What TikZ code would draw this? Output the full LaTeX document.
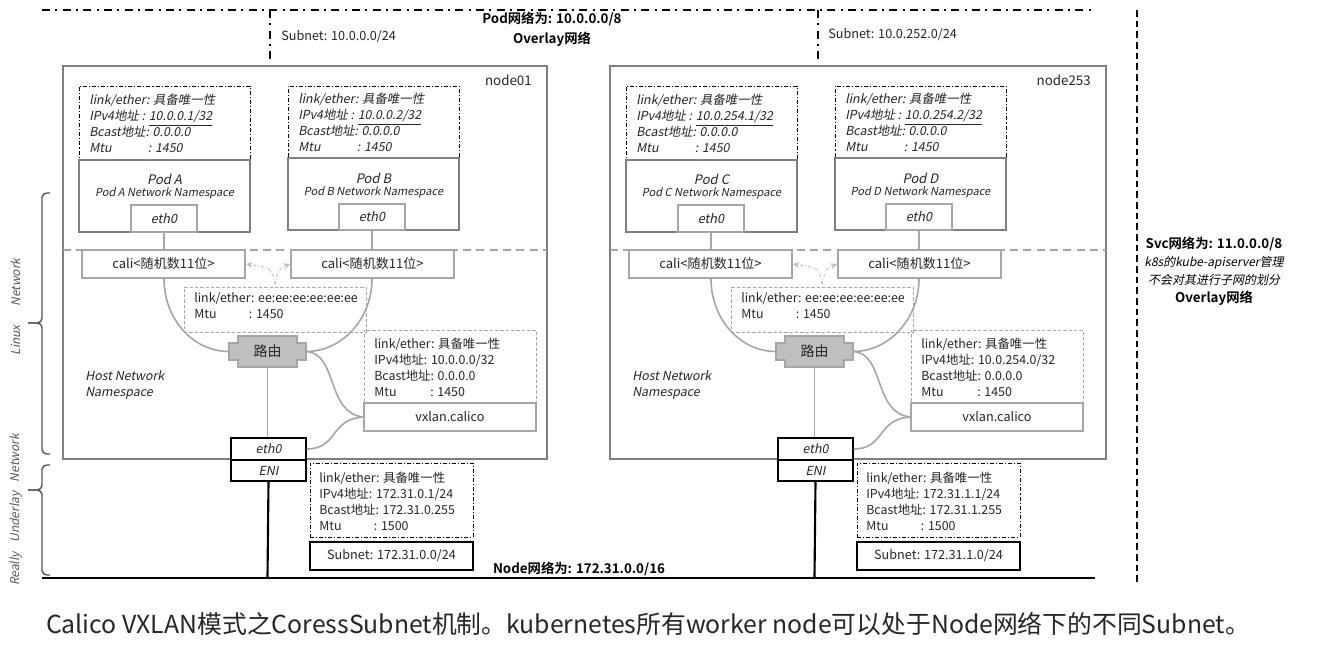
\documentclass[tikz,border=0pt]{standalone}
\usepackage{fontspec}
\setmainfont{Noto Sans CJK SC}[BoldFont={Noto Sans CJK SC Bold}]
\newfontfamily\itf{Noto Sans CJK SC}[FakeSlant=0.2]
\usetikzlibrary{fit,arrows.meta}
\definecolor{gA}{HTML}{7F7F7F}
\definecolor{gB}{HTML}{A6A6A6}
\definecolor{gC}{HTML}{BFBFBF}
\definecolor{gD}{HTML}{595959}
\definecolor{tx}{HTML}{262626}
\newcommand\fsz[2]{\fontsize{#1}{#2}\selectfont}
\tikzset{
  hostbox/.style={draw=gA, line width=1.5pt, inner sep=0pt},
  podbox/.style={draw=gA, line width=1.5pt, inner sep=0pt},
  ethbox/.style={draw=gB, line width=1.2pt, inner sep=0pt},
  calibox/.style={draw=gB, line width=1.2pt, inner sep=0pt},
  ddbox/.style={draw=black, line width=0.6pt, dash pattern=on 3pt off 1.5pt on 0.8pt off 1.5pt, inner sep=0pt},
  gdbox/.style={draw=gB, line width=0.6pt, dash pattern=on 2.5pt off 1.5pt, inner sep=0pt},
  bbox/.style={draw=black, line width=0.8pt, inner sep=0pt},
  infotxt/.style={anchor=north west, align=left, inner sep=0pt, text=tx, font=\fsz{9.3}{12}},
  iinfotxt/.style={anchor=north west, align=left, inner sep=0pt, text=tx, font=\fsz{9.3}{12}\itf},
  boxtxt/.style={inner sep=0pt, text=tx, font=\fsz{9.5}{11}},
  iboxtxt/.style={inner sep=0pt, text=tx, font=\fsz{9.5}{11}\itf},
  garc/.style={draw=gB, line width=1.2pt},
  gline/.style={draw=gB, line width=1.2pt},
  garrow/.style={draw=gC, line width=0.8pt, dash pattern=on 2pt off 1.5pt on 0.6pt off 1.5pt, -{Stealth[length=5pt,width=4.5pt]}},
  boldtxt/.style={font=\fsz{10}{15}\bfseries, align=center, inner sep=0pt},
  plaintxt/.style={font=\fsz{9.5}{11}, inner sep=0pt},
  sidetxt/.style={rotate=90, font=\fsz{9}{11}\itf, text=gD, inner sep=0pt},
  dashdotline/.style={draw=black, line width=1.5pt, dash pattern=on 6pt off 4pt on 1.5pt off 4pt},
  bracestyle/.style={draw=gD, line width=1.1pt, rounded corners=3.5pt},
}
% #1 node name, #2/#3 pod letters, #4/#5 pod ips, #6 vxlan ip, #7 eni ip, #8 bcast, #9 subnet
\newcommand\hostnode[9]{%
  \node[hostbox, fit={(63,66)(63+\nodew,459)}] (box) {};
  \node[plaintxt, anchor=east, font=\fsz{10}{12}, text=tx] (nm) at (48+\nodew,80) {#1};
  % pod left
  \node[ddbox, fit={(79,86)(250,160)}] (infoL) {};
  \node[iinfotxt] (infoLt) at (89,94) {link/ether: 具备唯一性\\IPv4地址 : \underline{#4}\\Bcast地址: 0.0.0.0\\\makebox[44pt][l]{Mtu}: 1450};
  \node[podbox, fit={(79,160)(250,232)}] (podL) {};
  \node[plaintxt, font=\fsz{9.8}{11}\itf, text=tx] (podLt) at (164.5,179) {Pod #2};
  \node[plaintxt, font=\fsz{8.3}{10}\itf, text=tx] (podLn) at (164.5,193) {Pod #2 Network Namespace};
  \node[ethbox, fit={(131,205)(197,232)}] (ethL) {};
  \node[iboxtxt] (ethLt) at (ethL.center) {eth0};
  % pod right
  \node[ddbox, fit={(288,86)(459,158)}] (infoR) {};
  \node[iinfotxt] (infoRt) at (298,93) {link/ether: 具备唯一性\\IPv4地址 : \underline{#5}\\Bcast地址: 0.0.0.0\\\makebox[44pt][l]{Mtu}: 1450};
  \node[podbox, fit={(288,158)(459,230)}] (podR) {};
  \node[plaintxt, font=\fsz{9.8}{11}\itf, text=tx] (podRt) at (373.5,178) {Pod #3};
  \node[plaintxt, font=\fsz{8.3}{10}\itf, text=tx] (podRn) at (373.5,192) {Pod #3 Network Namespace};
  \node[ethbox, fit={(339,204)(405,230)}] (ethR) {};
  \node[iboxtxt] (ethRt) at (ethR.center) {eth0};
  % namespace separator
  \coordinate (sepL) at (63,250);
  \coordinate (sepR) at (63+\nodew,250);
  \draw[draw=gB, line width=1.2pt, dash pattern=on 6pt off 4pt] (sepL) -- (sepR);
  % cali
  \node[calibox, fill=white, fit={(82,250)(245,278)}] (caliL) {};
  \node[boxtxt, font=\fsz{9.8}{11}] (caliLt) at (caliL.center) {cali<随机数11位>};
  \node[calibox, fill=white, fit={(291,250)(454,278)}] (caliR) {};
  \node[boxtxt, font=\fsz{9.8}{11}] (caliRt) at (caliR.center) {cali<随机数11位>};
  \draw[gline] (ethL.south) -- (ethL.south |- caliL.north);
  \draw[gline] (ethR.south) -- (ethR.south |- caliR.north);
  % mid info
  \node[gdbox, fit={(184,287)(366,332)}] (minfo) {};
  \node[infotxt] (minfot) at (194,292) {link/ether: ee:ee:ee:ee:ee:ee\\\makebox[41pt][l]{Mtu}: 1450};
  % dashed arrows
  \coordinate (vt) at (275,284);
  \draw[garrow] (vt) .. controls (272,268) .. (caliL.east);
  \draw[garrow] (vt) .. controls (279,268) .. (caliR.west);
  % router
  \filldraw[fill=gC, draw=gB, line width=0.8pt] (238,336) -- (297,336) -- (297,343) -- (306,343) -- (306,360) -- (297,360) -- (297,367) -- (238,367) -- (238,360) -- (229,360) -- (229,343) -- (238,343) -- cycle;
  \node[plaintxt, font=\fsz{10.5}{12}, text=tx] (router) at (267.5,351.5) {路由};
  \coordinate (rL) at (229,351.5);
  \coordinate (rR) at (306,351.5);
  \coordinate (rB) at (267.5,367);
  % arcs
  \draw[garc] (ethL.south |- caliL.south) .. controls (164,319) and (193,351.5) .. (rL);
  \draw[garc] (ethR.south |- caliR.south) .. controls (372,319) and (342,351.5) .. (rR);
  % vxlan
  \node[gdbox, fit={(364,330)(536,403)}] (vinfo) {};
  \node[infotxt] (vinfot) at (374,338) {link/ether: 具备唯一性\\IPv4地址: #6\\Bcast地址: 0.0.0.0\\\makebox[42pt][l]{Mtu}: 1450};
  \node[calibox, fit={(364,403)(536,431)}] (vx) {};
  \node[boxtxt] (vxt) at (vx.center) {vxlan.calico};
  % host eth0 / ENI
  \node[bbox, fill=white, fit={(231,438)(306,460)}] (heth) {};
  \node[iboxtxt, font=\fsz{9.3}{11}\itf] (hetht) at (heth.center) {eth0};
  \node[bbox, fill=white, fit={(231,460)(306,481)}] (eni) {};
  \node[iboxtxt, font=\fsz{9.3}{11}\itf] (enit) at (eni.center) {ENI};
  \draw[gline] (rB) -- (rB |- heth.north);
  \draw[garc] (rR) .. controls (338,353) and (326,413) .. (vx.west);
  \draw[garc] (heth.east) .. controls (338,449) and (330,419) .. (vx.west);
  \node[iinfotxt] (hns) at (85,370) {Host Network\\Namespace};
  % underlay
  \coordinate (bot) at (267.5,578);
  \draw[black, line width=1.6pt] (eni.south) -- (bot);
  \node[ddbox, fit={(310,463)(473,537)}] (uinfo) {};
  \node[infotxt] (uinfot) at (319,472) {link/ether: 具备唯一性\\IPv4地址: #7\\Bcast地址: #8\\\makebox[41pt][l]{Mtu}: 1500};
  \node[bbox, fit={(310,542)(473,570)}] (usub) {};
  \node[boxtxt] (usubt) at (usub.center) {Subnet: #9};
}
\begin{document}
\begin{tikzpicture}[x=0.75pt, y=-0.75pt]
\useasboundingbox (0,0) rectangle (1321,657);
\fill[white] (0,0) rectangle (1321,657);
% top overlay dash-dot
\coordinate (tl) at (42,10);
\coordinate (tr) at (1095,10);
\coordinate (v1t) at (270,10);
\coordinate (v1b) at (270,62);
\coordinate (v2t) at (818,10);
\coordinate (v2b) at (818,62);
\draw[dashdotline] (tl) -- (tr);
\draw[dashdotline] (v1t) -- (v1b);
\draw[dashdotline] (v2t) -- (v2b);
\node[plaintxt, anchor=west, text=tx] (sub1) at (281,37) {Subnet: 10.0.0.0/24};
\node[plaintxt, anchor=west, text=tx] (sub2) at (828,35) {Subnet: 10.0.252.0/24};
\node[boldtxt] (podnet) at (552,29) {Pod网络为: 10.0.0.0/8\\Overlay网络};
% svc
\coordinate (svt) at (1137,10);
\coordinate (svb) at (1137,582);
\draw[black, line width=1.3pt, dash pattern=on 5pt off 3pt] (svt) -- (svb);
\node[align=center, inner sep=0pt, font=\fsz{9}{13.5}] (svc) at (1214,271) {{\bfseries\fsz{10}{13.5}Svc网络为: 11.0.0.0/8}\\{\itf k8s的kube-apiserver管理}\\{\itf 不会对其进行子网的划分}\\{\bfseries\fsz{10}{13.5}Overlay网络}};
% hosts
\begin{scope}[name prefix=L-]
  \def\nodew{484}
  \hostnode{node01}{A}{B}{10.0.0.1/32}{10.0.0.2/32}{10.0.0.0/32}{172.31.0.1/24}{172.31.0.255}{172.31.0.0/24}
\end{scope}
\begin{scope}[shift={(547,0)}, name prefix=R-]
  \def\nodew{496}
  \hostnode{node253}{C}{D}{10.0.254.1/32}{10.0.254.2/32}{10.0.254.0/32}{172.31.1.1/24}{172.31.1.255}{172.31.1.0/24}
\end{scope}
% bottom node network
\coordinate (bl) at (42,578);
\coordinate (br) at (1095,578);
\draw[black, line width=2.2pt] (bl) -- (br);
\node[boldtxt] (nodenet) at (579,569) {Node网络为: 172.31.0.0/16};
% braces
\coordinate (b1t) at (50,193);
\coordinate (b1m) at (28,323);
\coordinate (b1b) at (50,454);
\coordinate (b2t) at (50,465);
\coordinate (b2m) at (28,490);
\coordinate (b2b) at (50,575);
\draw[bracestyle] (b1t) -- (42,193) -- (42,323) -- (b1m);
\draw[bracestyle] (b1m) -- (42,323) -- (42,454) -- (b1b);
\draw[bracestyle] (b2t) -- (42,465) -- (42,490) -- (b2m);
\draw[bracestyle] (b2m) -- (42,490) -- (42,575) -- (b2b);
\node[sidetxt] (lnx) at (16,307) {Linux\hspace{14pt}Network};
\node[sidetxt] (und) at (16,510) {Really\hspace{7pt}Underlay\hspace{7pt}Network};
% caption
\node[inner sep=0pt, font=\fsz{18.6}{22}, text=tx] (cap) at (648,624) {Calico VXLAN模式之CoressSubnet机制。kubernetes所有worker node可以处于Node网络下的不同Subnet。};
\end{tikzpicture}
\end{document}
